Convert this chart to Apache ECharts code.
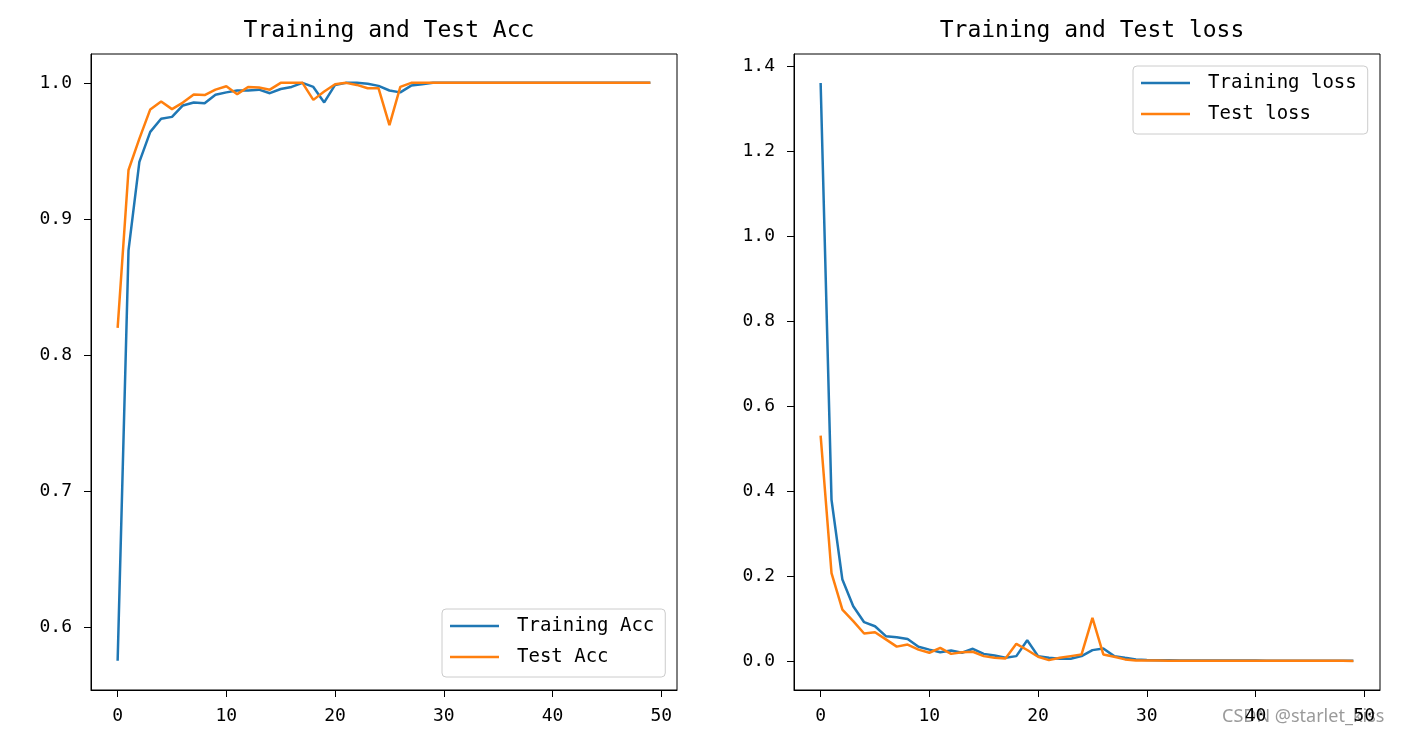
<!DOCTYPE html>
<html>
<head>
<meta charset="utf-8">
<script src="https://cdn.jsdelivr.net/npm/echarts@6/dist/echarts.min.js"></script>
<style>
html,body{margin:0;padding:0;background:#fff;}
#main{width:1407px;height:738px;}
</style>
</head>
<body>
<div id="main"></div>
<script>
const epochs = [0,1,2,3,4,5,6,7,8,9,10,11,12,13,14,15,16,17,18,19,20,21,22,23,24,25,26,27,28,29,30,31,32,33,34,35,36,37,38,39,40,41,42,43,44,45,46,47,48,49];

const trainAcc = [0.5755,0.877,0.942,0.964,0.9736,0.975,0.9834,0.9856,0.985,0.9912,
  0.993,0.9944,0.9944,0.995,0.9924,0.9955,0.997,1.0,0.997,0.9856,
  0.9985,1.0,1.0,0.9993,0.9978,0.9944,0.993,0.998,0.999,1.0,
  1.0,1.0,1.0,1.0,1.0,1.0,1.0,1.0,1.0,1.0,
  1.0,1.0,1.0,1.0,1.0,1.0,1.0,1.0,1.0,1.0];

const testAcc = [0.82,0.936,0.959,0.9805,0.9863,0.9807,0.9855,0.9915,0.991,0.995,
  0.9975,0.9917,0.997,0.9966,0.995,1.0,1.0,1.0,0.9875,0.9936,
  0.999,1.0,0.9985,0.996,0.996,0.969,0.997,1.0,1.0,1.0,
  1.0,1.0,1.0,1.0,1.0,1.0,1.0,1.0,1.0,1.0,
  1.0,1.0,1.0,1.0,1.0,1.0,1.0,1.0,1.0,1.0];

const trainLoss = [1.36,0.3795,0.1917,0.129,0.0915,0.082,0.0587,0.056,0.052,0.0336,
  0.027,0.021,0.025,0.0196,0.029,0.017,0.013,0.0078,0.0117,0.049,
  0.0117,0.0078,0.0055,0.0055,0.0117,0.0258,0.0297,0.0117,0.0078,0.004,
  0.0025,0.002,0.0018,0.0016,0.0015,0.0014,0.0013,0.0012,0.0012,0.0011,
  0.0011,0.001,0.001,0.001,0.0009,0.0009,0.0009,0.0008,0.0008,0.0008];

const testLoss = [0.5305,0.207,0.121,0.094,0.065,0.068,0.051,0.034,0.039,0.027,
  0.0196,0.031,0.017,0.021,0.022,0.0117,0.0078,0.006,0.0406,0.026,
  0.0102,0.0023,0.0078,0.0117,0.0156,0.1016,0.0156,0.0102,0.004,0.0016,
  0.0012,0.0011,0.001,0.001,0.0009,0.0009,0.0009,0.0008,0.0008,0.0008,
  0.0007,0.0007,0.0007,0.0007,0.0006,0.0006,0.0006,0.0006,0.0006,0.0005];

const xTicks = [0,10,20,30,40,50];
const accTicks = [0.6,0.7,0.8,0.9,1.0];
const lossTicks = [0.0,0.2,0.4,0.6,0.8,1.0,1.2,1.4];

const titles = ['Training and Test Acc','Training and Test loss'];
const names = ['Training Acc','Test Acc','Training loss','Test loss'];

const FONT = '"DejaVu Sans Mono", "Liberation Mono", monospace';
const BLUE = '#1f77b4', ORANGE = '#ff7f0e';

function pairs(vals){ return epochs.map((e,i)=>[e, vals[i]]); }

function xAxis(gi){
  return {
    type:'value', gridIndex:gi, min:-2.45, max:51.45,
    axisLine:{show:true, onZero:false, lineStyle:{color:'#000', width:1}},
    axisTick:{show:true, length:7, lineStyle:{color:'#000', width:1}, customValues:xTicks},
    axisLabel:{color:'#000', fontFamily:FONT, fontSize:18, margin:17, customValues:xTicks,
      formatter:v=>String(v)},
    splitLine:{show:false}
  };
}
function yAxis(gi, min, max, ticks){
  return {
    type:'value', gridIndex:gi, min:min, max:max,
    axisLine:{show:true, onZero:false, lineStyle:{color:'#000', width:1}},
    axisTick:{show:true, length:7, lineStyle:{color:'#000', width:1}, customValues:ticks},
    axisLabel:{color:'#000', fontFamily:FONT, fontSize:18, margin:19, customValues:ticks,
      formatter:v=>Number(v).toFixed(1)},
    splitLine:{show:false}
  };
}
function line(name, vals, color, gi){
  return {
    type:'line', name:name, xAxisIndex:gi, yAxisIndex:gi, data:pairs(vals),
    symbol:'none', showSymbol:false, animation:false,
    lineStyle:{color:color, width:2.5}, itemStyle:{color:color}
  };
}
function legend(data, left, top){
  return {
    data:data, orient:'vertical', left:left, top:top,
    icon:'rect', itemWidth:49, itemHeight:2.5, itemGap:9,
    padding:[6,11,9,8], borderColor:'#cccccc', borderWidth:1, borderRadius:4,
    backgroundColor:'rgba(255,255,255,0.8)',
    textStyle:{color:'#000', fontFamily:FONT, fontSize:19, padding:[0,0,0,13], lineHeight:22},
    selectedMode:false
  };
}

const chart = echarts.init(document.getElementById('main'), null, {renderer:'canvas'});
chart.setOption({
  animation:false,
  backgroundColor:'#fff',
  title:[
    {text:titles[0], left:384, top:15, textAlign:'center',
     textStyle:{fontFamily:FONT, fontSize:23, fontWeight:'normal', color:'#000'}},
    {text:titles[1], left:1087, top:15, textAlign:'center',
     textStyle:{fontFamily:FONT, fontSize:23, fontWeight:'normal', color:'#000'}}
  ],
  grid:[
    {left:91, top:54, width:586, height:636, show:true, borderColor:'#000', borderWidth:1, backgroundColor:'transparent'},
    {left:794, top:54, width:586, height:636, show:true, borderColor:'#000', borderWidth:1, backgroundColor:'transparent'}
  ],
  xAxis:[xAxis(0), xAxis(1)],
  yAxis:[yAxis(0, 0.554, 1.0212, accTicks), yAxis(1, -0.068, 1.428, lossTicks)],
  legend:[legend([names[0],names[1]], 442, 609), legend([names[2],names[3]], 1133, 66)],
  series:[
    line(names[0], trainAcc, BLUE, 0),
    line(names[1], testAcc, ORANGE, 0),
    line(names[2], trainLoss, BLUE, 1),
    line(names[3], testLoss, ORANGE, 1)
  ],
  graphic:[
    {type:'text', left:1222, top:708, silent:true,
     style:{text:'CSDN @starlet_kiss', fill:'rgba(120,120,120,0.75)', font:'18px "Noto Sans", sans-serif'}}
  ]
});
</script>
</body>
</html>
